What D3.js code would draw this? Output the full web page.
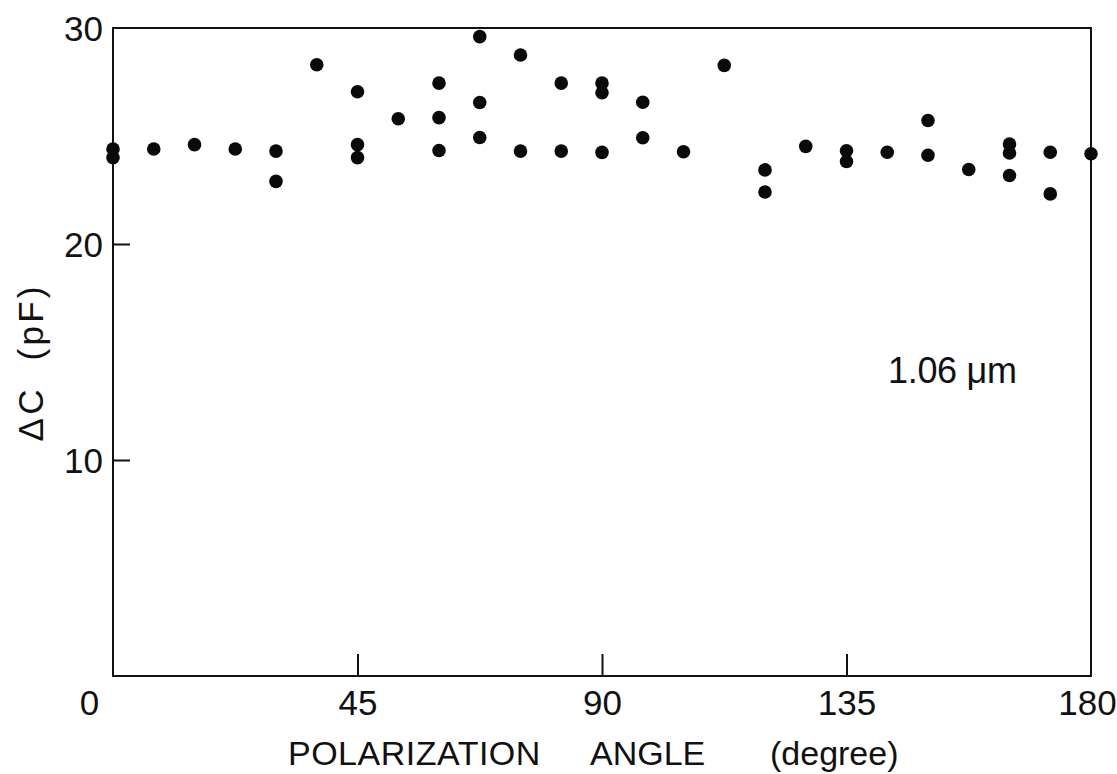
<!DOCTYPE html>
<html>
<head>
<meta charset="utf-8">
<script src="https://cdn.jsdelivr.net/npm/d3@7"></script>
<style>
  body { margin: 0; background: #fff; }
  text { font-family: "Liberation Sans", Arial, sans-serif; fill: #111; }
</style>
</head>
<body>
<div id="chart"></div>
<script>
// polarization angle (degree) and measured capacitance change (pF)
const angles = [0, 0, 7.5, 15, 22.5, 30, 30, 37.5, 45, 45, 45, 52.5, 60, 60, 60,
  67.5, 67.5, 67.5, 75, 75, 82.5, 82.5, 90, 90, 90, 97.5, 97.5, 105, 112.5,
  120, 120, 127.5, 135, 135, 142.5, 150, 150, 157.5, 165, 165, 165, 172.5, 172.5, 180]
const deltaC = [24.4, 24.0, 24.4, 24.6, 24.4, 24.3, 22.9, 28.3, 27.05, 24.6, 24.0, 25.8, 27.45, 25.85, 24.33,
  29.6, 26.55, 24.93, 28.75, 24.3, 27.45, 24.3, 27.45, 27.0, 24.24, 26.56, 24.92, 24.27, 28.27,
  23.43, 22.41, 24.52, 24.32, 23.82, 24.25, 25.72, 24.11, 23.45, 24.63, 24.21, 23.17, 24.25, 22.32, 24.18]
const xTicks = [0, 45, 90, 135, 180]
const yTicks = [10, 20, 30]
const xTitleWords = ['POLARIZATION', 'ANGLE', '(degree)']
const yTitle = '\u0394C  (pF)'
const note = '1.06 \u03bcm'

const width = 1117
const height = 774
const margin = {top: 28, right: 26, bottom: 98, left: 113}

const data = angles.map((a, i) => ({angle: a, dc: deltaC[i]}))

const svg = d3.select('#chart')
  .append('svg')
  .attr('width', width)
  .attr('height', height)

const x = d3.scaleLinear()
  .domain([0, 180])
  .range([margin.left, width - margin.right])

const y = d3.scaleLinear()
  .domain([0, 30])
  .range([height - margin.bottom, margin.top])

// frame
svg.append('rect')
  .attr('x', x(0))
  .attr('y', y(30))
  .attr('width', x(180) - x(0))
  .attr('height', y(0) - y(30))
  .attr('fill', 'none')
  .attr('stroke', '#111')
  .attr('stroke-width', 2)

const xAxis = svg.append('g')
  .attr('transform', `translate(0,${y(0)})`)
  .call(d3.axisBottom(x).tickValues(xTicks).tickSizeInner(-22).tickSizeOuter(0).tickPadding(14))
xAxis.select('.domain').remove()
xAxis.selectAll('.tick line')
  .attr('stroke', '#111')
  .attr('stroke-width', 2)
  .attr('display', d => (d === 0 || d === 180) ? 'none' : null)
xAxis.selectAll('.tick text')
  .attr('font-size', 35)
  .attr('fill', '#111')
  .attr('dx', d => d === 0 ? -24 : d === 180 ? -4 : 0)

const yAxis = svg.append('g')
  .attr('transform', `translate(${x(0)},0)`)
  .call(d3.axisLeft(y).tickValues(yTicks).tickSizeInner(-17).tickSizeOuter(0).tickPadding(10))
yAxis.select('.domain').remove()
yAxis.selectAll('.tick line')
  .attr('stroke', '#111')
  .attr('stroke-width', 2)
  .attr('display', d => d === 30 ? 'none' : null)
yAxis.selectAll('.tick text')
  .attr('font-size', 35)
  .attr('fill', '#111')
  .attr('dy', '0.36em')

// points
svg.selectAll('circle')
  .data(data)
  .enter()
  .append('circle')
  .attr('cx', d => x(d.angle))
  .attr('cy', d => y(d.dc))
  .attr('r', 6.8)
  .attr('fill', '#0a0a0a')

// x title, three spaced words
const titleX = [288, 590, 770]
svg.selectAll('.xtitle')
  .data(xTitleWords)
  .enter()
  .append('text')
  .attr('class', 'xtitle')
  .attr('x', (d, i) => titleX[i])
  .attr('y', 765)
  .attr('font-size', 34)
  .attr('letter-spacing', (d, i) => i === 0 ? 0.5 : 0)
  .text(d => d)

svg.append('text')
  .attr('transform', 'translate(43,364) rotate(-90)')
  .attr('text-anchor', 'middle')
  .attr('font-size', 35)
  .attr('textLength', 155)
  .attr('xml:space', 'preserve')
  .text(yTitle)

svg.append('text')
  .attr('x', x(143) - 2)
  .attr('y', 383)
  .attr('font-size', 36)
  .attr('textLength', 129)
  .text(note)
</script>
</body>
</html>
